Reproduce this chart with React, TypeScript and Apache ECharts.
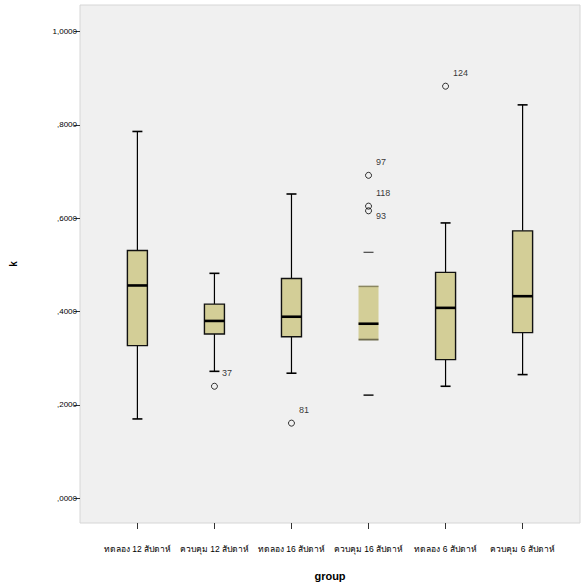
import React, { useEffect, useRef } from "react";
import * as echarts from "echarts";

const categories = [
  "ทดลอง 12 สัปดาห์",
  "ควบคุม 12 สัปดาห์",
  "ทดลอง 16 สัปดาห์",
  "ควบคุม 16 สัปดาห์",
  "ทดลอง 6 สัปดาห์",
  "ควบคุม 6 สัปดาห์",
];
const whiskerLow = [0.17, 0.272, 0.268, 0.221, 0.24, 0.265];
const q1 = [0.327, 0.352, 0.346, 0.34, 0.297, 0.355];
const median = [0.456, 0.38, 0.389, 0.374, 0.408, 0.433];
const q3 = [0.531, 0.416, 0.471, 0.454, 0.484, 0.573];
const whiskerHigh = [0.786, 0.482, 0.652, 0.527, 0.59, 0.843];

const outlierGroup = [1, 2, 3, 3, 3, 4];
const outlierValue = [0.24, 0.161, 0.692, 0.626, 0.616, 0.883];
const outlierId = ["37", "81", "97", "118", "93", "124"];

const yTicks = [0, 0.2, 0.4, 0.6, 0.8, 1.0];
const yTickLabels = [",0000", ",2000", ",4000", ",6000", ",8000", "1,0000"];
const xTicks = [0, 1, 2, 3, 4, 5];

const FONT = "'Liberation Sans', Arial, 'Noto Sans', sans-serif";

export default function App() {
  const ref = useRef<HTMLDivElement>(null);

  useEffect(() => {
    document.body.style.margin = "0";
    if (!ref.current) return;
    const chart = echarts.init(ref.current, null, { renderer: "svg" });

    const boxData = categories.map((_, i) => [
      i,
      whiskerLow[i],
      q1[i],
      median[i],
      q3[i],
      whiskerHigh[i],
    ]);

    const outlierData = outlierId.map((id, i) => ({
      value: [outlierGroup[i], outlierValue[i], id],
      label: { offset: id === "93" ? [2, 5] : [2, -13] },
    }));

    const renderItem = (params: any, api: any) => {
      const i = params.dataIndex;
      const x = api.value(0);
      const pLo = api.coord([x, api.value(1)]);
      const pQ1 = api.coord([x, api.value(2)]);
      const pMed = api.coord([x, api.value(3)]);
      const pQ3 = api.coord([x, api.value(4)]);
      const pHi = api.coord([x, api.value(5)]);
      const cx = pLo[0];
      const hw = 10;
      const cap = 5;
      const faint = i === 3;
      const children: any[] = [];
      if (!faint) {
        children.push(
          {
            type: "line",
            shape: { x1: cx, y1: pHi[1], x2: cx, y2: pQ3[1] },
            style: { stroke: "#000", lineWidth: 1.2 },
          },
          {
            type: "line",
            shape: { x1: cx, y1: pQ1[1], x2: cx, y2: pLo[1] },
            style: { stroke: "#000", lineWidth: 1.2 },
          }
        );
      }
      children.push(
        {
          type: "line",
          shape: { x1: cx - cap, y1: pHi[1], x2: cx + cap, y2: pHi[1] },
          style: { stroke: faint ? "#555" : "#000", lineWidth: faint ? 1.3 : 1.6 },
        },
        {
          type: "line",
          shape: { x1: cx - cap, y1: pLo[1], x2: cx + cap, y2: pLo[1] },
          style: { stroke: faint ? "#222" : "#000", lineWidth: 1.6 },
        },
        {
          type: "rect",
          shape: { x: cx - hw, y: pQ3[1], width: 2 * hw, height: pQ1[1] - pQ3[1] },
          style: faint
            ? { fill: "#d3ce97", stroke: "none" }
            : { fill: "#d3ce97", stroke: "#111", lineWidth: 1.4 },
        }
      );
      if (faint) {
        children.push(
          {
            type: "line",
            shape: { x1: cx - hw, y1: pQ3[1], x2: cx + hw, y2: pQ3[1] },
            style: { stroke: "#8a8660", lineWidth: 1.5 },
          },
          {
            type: "line",
            shape: { x1: cx - hw, y1: pQ1[1], x2: cx + hw, y2: pQ1[1] },
            style: { stroke: "#6f6c4e", lineWidth: 1.8 },
          }
        );
      }
      children.push({
        type: "line",
        shape: { x1: cx - hw, y1: pMed[1], x2: cx + hw, y2: pMed[1] },
        style: { stroke: "#000", lineWidth: 2.6 },
      });
      return { type: "group", children };
    };

    chart.setOption({
      animation: false,
      backgroundColor: "#ffffff",
      textStyle: { fontFamily: FONT },
      grid: {
        left: 75,
        right: 2,
        top: 5,
        bottom: 58,
        show: true,
        backgroundColor: "#f0f0f0",
        borderColor: "#d6d6d6",
        borderWidth: 1,
      },
      xAxis: {
        type: "value",
        min: -0.745,
        max: 5.745,
        name: "group",
        nameLocation: "middle",
        nameGap: 47,
        nameTextStyle: { fontSize: 11, color: "#000", fontWeight: "bold", fontFamily: FONT },
        axisLine: { show: false, onZero: false },
        splitLine: { show: false },
        axisTick: {
          show: true,
          customValues: xTicks,
          length: 6,
          lineStyle: { color: "#333", width: 1 },
        },
        axisLabel: {
          customValues: xTicks,
          formatter: (v: number) => categories[Math.round(v)] ?? "",
          fontSize: 8.5,
          color: "#000",
          margin: 21,
          fontFamily: FONT,
        },
      },
      yAxis: {
        type: "value",
        min: -0.053,
        max: 1.057,
        name: "k",
        nameLocation: "middle",
        nameGap: 62,
        nameRotate: 90,
        nameTextStyle: { fontSize: 10, color: "#000", fontWeight: "bold", fontFamily: FONT },
        axisLine: { show: false, onZero: false },
        splitLine: { show: false },
        axisTick: {
          show: true,
          customValues: yTicks,
          length: 6,
          lineStyle: { color: "#333", width: 1 },
        },
        axisLabel: {
          customValues: yTicks,
          formatter: (v: number) => {
            const idx = yTicks.findIndex((t) => Math.abs(t - v) < 1e-6);
            return idx >= 0 ? yTickLabels[idx] : "";
          },
          fontSize: 8,
          color: "#000",
          margin: 3,
          fontFamily: FONT,
        },
      },
      series: [
        {
          type: "custom",
          renderItem,
          data: boxData,
          encode: { x: 0, y: [1, 2, 3, 4, 5] },
          z: 2,
        },
        {
          type: "scatter",
          data: outlierData,
          symbol: "circle",
          symbolSize: 6,
          itemStyle: { color: "rgba(0,0,0,0)", borderColor: "#000", borderWidth: 1 },
          label: {
            show: true,
            position: "right",
            distance: 2,
            formatter: (p: any) => p.value[2],
            fontSize: 9,
            color: "#000",
            fontFamily: FONT,
          },
          z: 3,
        },
      ],
    });

    return () => chart.dispose();
  }, []);

  return <div ref={ref} style={{ width: 582, height: 586 }} />;
}
